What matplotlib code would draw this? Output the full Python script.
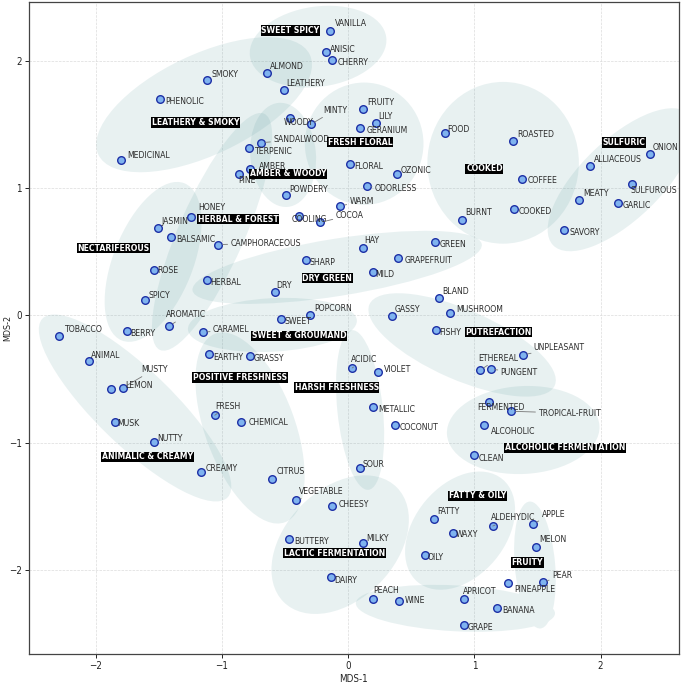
import matplotlib
matplotlib.use("Agg")
import matplotlib.pyplot as plt
from matplotlib.patches import Ellipse, PathPatch
from matplotlib.path import Path
from matplotlib import font_manager

# ---------------------------------------------------------------- data
descriptors = [
    "VANILLA", "ANISIC", "CHERRY", "ALMOND", "SMOKY", "LEATHERY", "PHENOLIC",
    "WOODY", "MINTY", "SANDALWOOD", "TERPENIC", "MEDICINAL", "AMBER", "PINE",
    "POWDERY", "HONEY", "JASMIN", "BALSAMIC", "CAMPHORACEOUS", "ROSE", "HERBAL",
    "SPICY", "DRY", "SHARP", "COOLING", "COCOA", "WARM", "POPCORN", "SWEET",
    "TOBACCO", "BERRY", "AROMATIC", "CARAMEL", "ANIMAL", "EARTHY", "GRASSY",
    "MUSTY", "LEMON", "MUSK", "NUTTY", "CREAMY", "FRESH", "CHEMICAL", "CITRUS",
    "VEGETABLE", "CHEESY", "BUTTERY", "DAIRY", "METALLIC", "COCONUT", "SOUR",
    "MILKY", "PEACH", "WINE", "FATTY", "WAXY", "OILY", "ALDEHYDIC", "APPLE",
    "MELON", "PINEAPPLE", "PEAR", "APRICOT", "BANANA", "GRAPE", "FERMENTED",
    "TROPICAL-FRUIT", "ALCOHOLIC", "CLEAN", "BURNT", "COOKED", "SAVORY",
    "GARLIC", "HAY", "GREEN", "GRAPEFRUIT", "MILD", "BLAND", "MUSHROOM",
    "GASSY", "FISHY", "UNPLEASANT", "ETHEREAL", "PUNGENT", "ACIDIC", "VIOLET",
    "FRUITY", "LILY", "GERANIUM", "FOOD", "ROASTED", "ONION", "ALLIACEOUS",
    "FLORAL", "OZONIC", "COFFEE", "ODORLESS", "SULFUROUS", "MEATY",
]

mds1 = [
    -0.143, -0.174, -0.124, -0.644, -1.115, -0.510, -1.487,
    -0.460, -0.296, -0.689, -0.787, -1.799, -0.777, -0.864,
    -0.491, -1.242, -1.506, -1.405, -1.028, -1.537, -1.120,
    -1.611, -0.578, -0.335, -0.391, -0.219, -0.061, -0.304, -0.533,
    -2.293, -1.754, -1.416, -1.151, -2.052, -1.099, -0.779,
    -1.783, -1.876, -1.846, -1.540, -1.165, -1.056, -0.850, -0.602,
    -0.414, -0.124, -0.468, -0.137, 0.198, 0.370, 0.093,
    0.119, 0.198, 0.407, 0.681, 0.829, 0.608, 1.146, 1.461,
    1.492, 1.265, 1.543, 0.919, 1.178, 0.919, 1.117,
    1.292, 1.080, 0.996, 0.906, 1.313, 1.712,
    2.142, 0.121, 0.692, 0.396, 0.198, 0.721, 0.811,
    0.346, 0.700, 1.384, 1.046, 1.128, 0.032, 0.238,
    0.116, 0.219, 0.095, 0.769, 1.310, 2.390, 1.915,
    0.018, 0.386, 1.379, 0.148, 2.245, 1.828,
]

mds2 = [
    2.236, 2.065, 2.003, 1.906, 1.848, 1.767, 1.699,
    1.552, 1.500, 1.356, 1.311, 1.219, 1.146, 1.109,
    0.942, 0.772, 0.688, 0.619, 0.556, 0.358, 0.279,
    0.122, 0.182, 0.434, 0.782, 0.730, 0.860, 0.006, -0.030,
    -0.161, -0.119, -0.083, -0.132, -0.360, -0.305, -0.316,
    -0.567, -0.578, -0.837, -0.997, -1.232, -0.784, -0.834, -1.285,
    -1.452, -1.495, -1.759, -2.057, -0.719, -0.858, -1.201,
    -1.785, -2.223, -2.246, -1.597, -1.707, -1.880, -1.654, -1.636,
    -1.817, -2.100, -2.097, -2.228, -2.299, -2.432, -0.682,
    -0.753, -0.861, -1.099, 0.748, 0.835, 0.669,
    0.884, 0.530, 0.578, 0.452, 0.339, 0.138, 0.017,
    -0.002, -0.116, -0.310, -0.431, -0.423, -0.413, -0.441,
    1.620, 1.513, 1.473, 1.432, 1.371, 1.264, 1.172,
    1.191, 1.107, 1.073, 1.012, 1.031, 0.908,
]

group_names = [
    "SWEET SPICY", "LEATHERY & SMOKY", "AMBER & WOODY", "FRESH FLORAL",
    "COOKED", "SULFURIC", "HERBAL & FOREST", "NECTARIFEROUS", "DRY GREEN",
    "SWEET & GROUMAND", "POSITIVE FRESHNESS", "HARSH FRESHNESS",
    "PUTREFACTION", "ALCOHOLIC FERMENTATION", "ANIMALIC & CREAMY",
    "FATTY & OILY", "FRUITY", "LACTIC FERMENTATION",
]

# group label anchors (MDS space)
group_label_x = [-0.456, -1.207, -0.475, 0.095, 1.080, 2.187, -0.872, -1.860,
                 -0.164, -0.388, -0.856, -0.091, 1.191, 1.718, -1.589, 1.024,
                 1.418, -0.107]
group_label_y = [2.236, 1.513, 1.112, 1.361, 1.151, 1.358, 0.756, 0.528,
                 0.292, -0.161, -0.489, -0.567, -0.132, -1.041, -1.110, -1.416,
                 -1.940, -1.866]

# ----------------------------------------------------- layout / styling
# cluster hulls as ellipses: (cx, cy, width, height, angle) in MDS units
group_regions = {
    "SWEET SPICY": [(-0.238, 2.11, 1.09, 0.63, 8)],
    "LEATHERY & SMOKY": [(-1.141, 1.654, 1.85, 0.79, 25)],
    "AMBER & WOODY": [(-0.515, 1.26, 0.82, 0.52, 95)],
    "FRESH FLORAL": [(0.127, 1.348, 0.94, 0.96, 0)],
    "COOKED": [(1.228, 1.198, 1.20, 1.27, 0)],
    "SULFURIC": [(2.163, 1.065, 1.49, 0.63, 43.5)],
    "HERBAL & FOREST": [(-1.078, 0.656, 2.03, 0.52, 66)],
    "NECTARIFEROUS": [(-1.545, 0.42, 1.33, 0.63, 68)],
    "DRY GREEN": [(-0.087, 0.377, 2.32, 0.45, 9)],
    "SWEET & GROUMAND": [(-0.60, -0.075, 1.34, 0.42, 3)],
    "POSITIVE FRESHNESS": [(-0.777, -0.884, 1.58, 0.71, -69.5)],
    "HARSH FRESHNESS": [(0.095, -0.743, 1.26, 0.36, 96)],
    "PUTREFACTION": [(0.903, -0.232, 1.60, 0.55, -23.4)],
    "ALCOHOLIC FERMENTATION": [(1.387, -0.90, 1.21, 0.69, 3)],
    "ANIMALIC & CREAMY": [(-1.688, -0.727, 2.03, 0.60, -43.7)],
    "FATTY & OILY": [(0.887, -1.69, 1.05, 0.72, 50)],
    "FRUITY": [(1.48, -1.96, 1.00, 0.32, 95), (0.85, -2.30, 1.58, 0.36, -3)],
    "LACTIC FERMENTATION": [(-0.063, -1.80, 1.27, 0.87, 45)],
}

# label placement: (dx, dy) in pixels from the marker, leader line flag
label_offsets = {
    "VANILLA": (5, 8, 0), "ANISIC": (4, 4, 0), "CHERRY": (5, -1, 0),
    "ALMOND": (3, 7, 0), "SMOKY": (4, 6, 0), "LEATHERY": (3, 8, 0),
    "PHENOLIC": (5, -2, 0), "WOODY": (-6, -4, 0), "MINTY": (12, 15, 1),
    "SANDALWOOD": (12, 4, 1), "TERPENIC": (5, -2, 0), "MEDICINAL": (6, 5, 0),
    "AMBER": (9, 4, 0), "PINE": (-1, -6, 0), "POWDERY": (3, 7, 0),
    "HONEY": (7, 10, 1), "JASMIN": (3, 7, 0), "BALSAMIC": (5, -2, 0),
    "CAMPHORACEOUS": (12, 2, 1), "ROSE": (3, 0, 0), "HERBAL": (4, -2, 0),
    "SPICY": (4, 5, 0), "DRY": (1, 7, 0), "SHARP": (4, -2, 0),
    "COOLING": (-7, -3, 0), "COCOA": (15, 8, 1), "WARM": (9, 5, 1),
    "POPCORN": (5, 7, 0), "SWEET": (4, -2, 0), "TOBACCO": (5, 7, 0),
    "BERRY": (4, -2, 0), "AROMATIC": (-3, 12, 1), "CARAMEL": (10, 3, 1),
    "ANIMAL": (2, 7, 0), "EARTHY": (4, -2, 0), "GRASSY": (4, -2, 0),
    "MUSTY": (18, 19, 1), "LEMON": (14, 4, 0), "MUSK": (2, -1, 0),
    "NUTTY": (4, 5, 0), "CREAMY": (5, 5, 0), "FRESH": (0, 10, 1),
    "CHEMICAL": (8, 0, 1), "CITRUS": (4, 8, 0), "VEGETABLE": (3, 10, 1),
    "CHEESY": (6, 2, 0), "BUTTERY": (5, -1, 0), "DAIRY": (3, -2, 0),
    "METALLIC": (5, -2, 0), "COCONUT": (5, -2, 0), "SOUR": (3, 5, 0),
    "MILKY": (3, 5, 0), "PEACH": (0, 9, 0), "WINE": (5, 2, 0),
    "FATTY": (3, 8, 0), "WAXY": (3, -1, 0), "OILY": (3, -2, 0),
    "ALDEHYDIC": (-2, 9, 1), "APPLE": (9, 10, 1), "MELON": (3, 8, 0),
    "PINEAPPLE": (6, -6, 0), "PEAR": (9, 8, 1), "APRICOT": (-1, 8, 0),
    "BANANA": (5, -2, 0), "GRAPE": (4, -2, 0), "FERMENTED": (-12, -4, 0),
    "TROPICAL-FRUIT": (27, -1, 1), "ALCOHOLIC": (6, -6, 0),
    "CLEAN": (5, -2, 0), "BURNT": (3, 8, 0), "COOKED": (5, -2, 0),
    "SAVORY": (5, -2, 0), "GARLIC": (4, -2, 0), "HAY": (1, 8, 0),
    "GREEN": (4, -2, 0), "GRAPEFRUIT": (7, -2, 0), "MILD": (2, -1, 0),
    "BLAND": (3, 7, 0), "MUSHROOM": (6, 5, 0), "GASSY": (3, 7, 0),
    "FISHY": (3, -2, 0), "UNPLEASANT": (11, 8, 1), "ETHEREAL": (-2, 13, 1),
    "PUNGENT": (10, -2, 1), "ACIDIC": (-1, 9, 1), "VIOLET": (6, 3, 0),
    "FRUITY": (4, 7, 0), "LILY": (2, 7, 0), "GERANIUM": (7, -2, 0),
    "FOOD": (2, 4, 0), "ROASTED": (4, 7, 0), "ONION": (3, 8, 0),
    "ALLIACEOUS": (4, 7, 0), "FLORAL": (4, -2, 0), "OZONIC": (4, 5, 0),
    "COFFEE": (5, -1, 0), "ODORLESS": (8, -1, 1), "SULFUROUS": (-1, -6, 0),
    "MEATY": (4, 7, 0),
}

REGION_COLOR = "#5f9ea0"
REGION_ALPHA = 0.14
POINT_FACE = "#7fb3ef"
POINT_EDGE = "#1c2fa6"
TEXT_COLOR = "#2b2b2b"

# narrow sans face for the dense labelling
_names = {f.name for f in font_manager.fontManager.ttflist}
if "Liberation Sans Narrow" in _names:
    FAMILY, STRETCH = "Liberation Sans Narrow", "normal"
else:
    FAMILY, STRETCH = "DejaVu Sans", "condensed"
plt.rcParams["font.family"] = [FAMILY, "DejaVu Sans"]
plt.rcParams["font.stretch"] = STRETCH
plt.rcParams["axes.unicode_minus"] = True

# ---------------------------------------------------------------- figure
fig = plt.figure(figsize=(6.85, 6.85), dpi=100)
ax = fig.add_axes([0.042, 0.045, 0.949, 0.952])
ax.set_xlim(-2.53, 2.62)
ax.set_ylim(-2.66, 2.46)

# cluster regions (multi-lobe regions are filled as one union path)
for name in group_names:
    paths = []
    for (cx, cy, w, h, ang) in group_regions[name]:
        e = Ellipse((cx, cy), w, h, angle=ang)
        paths.append(e.get_patch_transform().transform_path(e.get_path()))
    region = Path.make_compound_path(*paths)
    ax.add_patch(PathPatch(region, facecolor=REGION_COLOR, edgecolor="none",
                           alpha=REGION_ALPHA, zorder=1))

ax.scatter(mds1, mds2, s=30, facecolor=POINT_FACE, edgecolor=POINT_EDGE,
           linewidth=1.0, zorder=3)

for name, x, y in zip(descriptors, mds1, mds2):
    dx, dy, lead = label_offsets[name]
    arrow = None
    if lead:
        arrow = dict(arrowstyle="-", color="#777777", lw=0.6,
                     shrinkA=0, shrinkB=3)
    ax.annotate(name, (x, y), xytext=(dx, dy - 3.3), textcoords="offset pixels",
                ha="left", va="baseline", fontsize=6.2, color=TEXT_COLOR,
                arrowprops=arrow, zorder=4)

for name, gx, gy in zip(group_names, group_label_x, group_label_y):
    ax.text(gx, gy, name, ha="center", va="center", fontsize=6.2,
            fontweight="bold", color="white", zorder=5,
            bbox=dict(boxstyle="square,pad=0.08", facecolor="black",
                      edgecolor="none"))

ax.set_xticks([-2, -1, 0, 1, 2])
ax.set_yticks([-2, -1, 0, 1, 2])
ax.tick_params(labelsize=7, length=3, width=0.7, pad=2, colors="#222222")
ax.grid(True, linestyle="--", linewidth=0.5, color="#dcdcdc", zorder=0)
ax.set_axisbelow(True)
for sp in ax.spines.values():
    sp.set_color("#444444")
    sp.set_linewidth(0.9)
ax.set_xlabel("MDS-1", fontsize=7, labelpad=2, color="#222222")
ax.set_ylabel("MDS-2", fontsize=6.5, color="#222222")
ax.yaxis.set_label_coords(-0.026, 0.5)

fig.savefig("out.png", dpi=100)
